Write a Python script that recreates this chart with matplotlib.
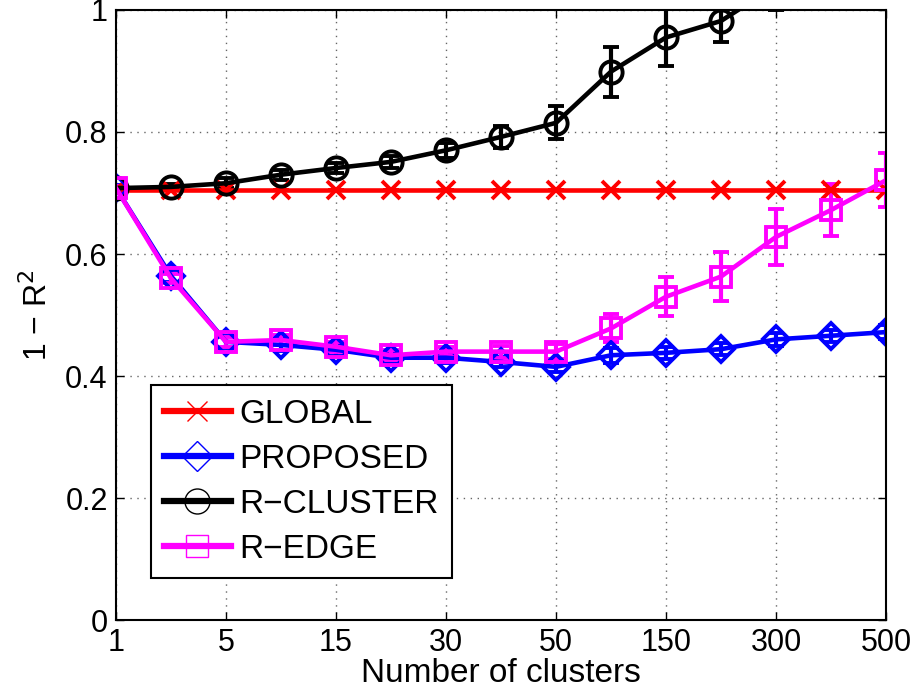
import numpy as np
import matplotlib
matplotlib.use('Agg')
import matplotlib.pyplot as plt
from matplotlib.lines import Line2D

plt.rcParams['font.family'] = ['Liberation Sans', 'DejaVu Sans']

# number of clusters tried (every other one gets a tick label)
n_clusters = [1, 3, 5, 10, 15, 20, 30, 40, 50, 100, 150, 200, 300, 400, 500]

global_err = [0.705] * 15
global_std = [0.0] * 15

proposed = [0.708, 0.564, 0.456, 0.451, 0.443, 0.430, 0.430, 0.423,
            0.415, 0.434, 0.438, 0.444, 0.460, 0.466, 0.472]
proposed_std = [0.005, 0.010, 0.010, 0.010, 0.010, 0.008, 0.008, 0.008,
                0.008, 0.012, 0.010, 0.010, 0.010, 0.010, 0.012]

r_cluster = [0.708, 0.710, 0.716, 0.730, 0.741, 0.751, 0.770, 0.792,
             0.815, 0.899, 0.955, 0.982, 1.04, 1.09, 1.13]
r_cluster_std = [0.004, 0.005, 0.008, 0.008, 0.008, 0.010, 0.012, 0.018,
                 0.027, 0.041, 0.047, 0.034, 0.04, 0.04, 0.04]

r_edge = [0.708, 0.560, 0.456, 0.459, 0.448, 0.434, 0.440, 0.440,
          0.440, 0.478, 0.530, 0.563, 0.628, 0.672, 0.721]
r_edge_std = [0.004, 0.008, 0.008, 0.008, 0.008, 0.008, 0.008, 0.010,
              0.012, 0.023, 0.032, 0.040, 0.046, 0.042, 0.044]

series = [
    ('GLOBAL', global_err, global_std, 'red', 'x', 13),
    ('PROPOSED', proposed, proposed_std, 'blue', 'D', 13),
    ('R\u2212CLUSTER', r_cluster, r_cluster_std, 'black', 'o', 16),
    ('R\u2212EDGE', r_edge, r_edge_std, 'magenta', 's', 14),
]

x = np.arange(len(n_clusters))

fig = plt.figure(figsize=(9.17, 6.98), dpi=100)
ax = fig.add_axes([0.1265, 0.1117, 0.8397, 0.874])

handles = []
for name, y, err, col, mk, ms in series:
    ax.errorbar(x, y, yerr=err, color=col, lw=3.3, marker=mk, ms=ms,
                mfc='none', mec=col, mew=2.8, capsize=6, capthick=3,
                elinewidth=3)
    handles.append(Line2D([], [], color=col, lw=4.5, marker=mk,
                          ms=ms + 2, mfc='none', mec=col, mew=1))

ax.set_xlim(0, len(n_clusters) - 1)
ax.set_ylim(0, 1)
ax.set_xticks(x[::2])
ax.set_xticklabels([str(v) for v in n_clusters[::2]])
ax.set_yticks(np.arange(0, 1.01, 0.2))
ax.set_yticklabels(['0', '0.2', '0.4', '0.6', '0.8', '1'])
ax.tick_params(direction='in', length=6, width=1, top=True, right=True,
               labelsize=22, pad=6)
ax.grid(True, linestyle=(0, (1, 4)), color='0.4', lw=1)
for sp in ax.spines.values():
    sp.set_linewidth(1.5)

ax.set_xlabel('Number of clusters', fontsize=24, labelpad=0)
ax.set_ylabel('1 \u2212 R$^2$', fontsize=23, labelpad=8)

leg = ax.legend(handles, [s[0] for s in series], loc='lower left',
                bbox_to_anchor=(0.045, 0.069), fontsize=24, fancybox=False,
                edgecolor='black', framealpha=1, handlelength=2.0,
                borderpad=0.4, labelspacing=0.42, handletextpad=0.25,
                borderaxespad=0)
leg.get_frame().set_linewidth(1.5)

fig.savefig('out.png', dpi=100)
